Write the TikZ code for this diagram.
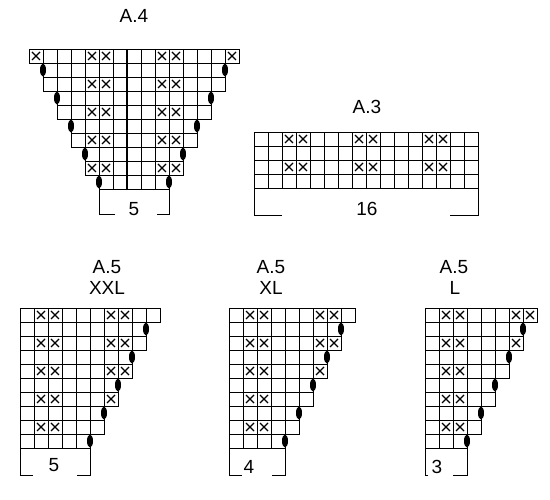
\documentclass[tikz,border=0pt]{standalone}
\usepackage{fontspec}
\setmainfont{Liberation Sans}
\begin{document}
\begin{tikzpicture}[x=1pt, y=-1pt]
        % Definitions
        \def\cs{14}
        \def\crx{4}
        \tikzset{
            cell/.style={draw=black, line width=0.8pt},
            cross/.style={draw=black, line width=1.3pt},
            bracket/.style={draw=black, line width=1pt},
            lbl/.style={font=\fontsize{19}{22}\selectfont, inner sep=0pt}
        }
        \useasboundingbox (0,0) rectangle (550,500);

        % --- CHART A.4 ---
        \node[lbl] (titleAfour) at (134,16) {A.4};
        \begin{scope}[shift={(29,49)}]
            % Cells of each row: row/first/last
            \foreach \r/\a/\b in {1/1/15, 2/2/14, 3/2/14, 4/3/13, 5/3/13,
                                  6/4/12, 7/4/12, 8/5/11, 9/5/11, 10/6/10} {
                \foreach \c in {\a,...,\b}
                    \draw[cell] ({(\c-1)*\cs},{(\r-1)*\cs}) rectangle ++(\cs,\cs);
            }
            % Crosses
            \foreach \r/\c in {1/1, 1/5, 1/6, 1/10, 1/11, 1/15,
                               3/5, 3/6, 3/10, 3/11, 5/5, 5/6, 5/10, 5/11,
                               7/5, 7/6, 7/10, 7/11, 9/5, 9/6, 9/10, 9/11}
                \draw[cross] ({(\c-0.5)*\cs-\crx},{(\r-0.5)*\cs-\crx}) -- ++(2*\crx,2*\crx) ++(-2*\crx,0) -- ++(2*\crx,-2*\crx);
            % Ovals on both edges
            \foreach \r/\a/\b in {2/2/14, 4/3/13, 6/4/12, 8/5/11, 10/6/10} {
                \fill ({(\a-1)*\cs},{(\r-0.5)*\cs}) ellipse (3 and 6.5);
                \fill ({\b*\cs},{(\r-0.5)*\cs}) ellipse (3 and 6.5);
            }
            % Middle line
            \draw[line width=2pt] (7*\cs,0) -- (7*\cs,10*\cs);
            % Bracket
            \draw[bracket] (5*\cs+16,166) -| (5*\cs,10*\cs);
            \draw[bracket] (10*\cs-12,166) -| (10*\cs,10*\cs);
            \node[lbl] (repAfour) at (105,160) {5};
        \end{scope}

        % --- CHART A.3 ---
        \node[lbl] (titleAthree) at (367,107) {A.3};
        \begin{scope}[shift={(254,132)}]
            \foreach \r in {1,...,4}
                \foreach \c in {1,...,16}
                    \draw[cell] ({(\c-1)*\cs},{(\r-1)*\cs}) rectangle ++(\cs,\cs);
            \foreach \r in {1,3}
                \foreach \c in {3,4,8,9,13,14}
                    \draw[cross] ({(\c-0.5)*\cs-\crx},{(\r-0.5)*\cs-\crx}) -- ++(2*\crx,2*\crx) ++(-2*\crx,0) -- ++(2*\crx,-2*\crx);
            \draw[bracket] (28,84) -| (0,4*\cs);
            \draw[bracket] (16*\cs-28,84) -| (16*\cs,4*\cs);
            \node[lbl] (repAthree) at (113,77) {16};
        \end{scope}

        % --- CHART A.5 XXL ---
        \node[lbl] (titleXXLa) at (107,267) {A.5};
        \node[lbl] (titleXXLb) at (107,288) {XXL};
        \begin{scope}[shift={(20,308)}]
            \foreach \r/\b in {1/10, 2/9, 3/9, 4/8, 5/8, 6/7, 7/7, 8/6, 9/6, 10/5} {
                \foreach \c in {1,...,\b}
                    \draw[cell] ({(\c-1)*\cs},{(\r-1)*\cs}) rectangle ++(\cs,\cs);
            }
            \foreach \r/\c in {1/2, 1/3, 1/7, 1/8, 3/2, 3/3, 3/7, 3/8,
                               5/2, 5/3, 5/7, 5/8, 7/2, 7/3, 7/7, 9/2, 9/3}
                \draw[cross] ({(\c-0.5)*\cs-\crx},{(\r-0.5)*\cs-\crx}) -- ++(2*\crx,2*\crx) ++(-2*\crx,0) -- ++(2*\crx,-2*\crx);
            \foreach \r/\b in {2/9, 4/8, 6/7, 8/6, 10/5}
                \fill ({\b*\cs},{(\r-0.5)*\cs}) ellipse (3 and 6.5);
            \draw[bracket] (13,168) -| (0,10*\cs);
            \draw[bracket] (5*\cs-13,168) -| (5*\cs,10*\cs);
            \node[lbl] (repXXL) at (34,157) {5};
        \end{scope}

        % --- CHART A.5 XL ---
        \node[lbl] (titleXLa) at (271,267) {A.5};
        \node[lbl] (titleXLb) at (271,288) {XL};
        \begin{scope}[shift={(229,308)}]
            \foreach \r/\b in {1/9, 2/8, 3/8, 4/7, 5/7, 6/6, 7/6, 8/5, 9/5, 10/4} {
                \foreach \c in {1,...,\b}
                    \draw[cell] ({(\c-1)*\cs},{(\r-1)*\cs}) rectangle ++(\cs,\cs);
            }
            \foreach \r/\c in {1/2, 1/3, 1/7, 1/8, 3/2, 3/3, 3/7, 3/8,
                               5/2, 5/3, 5/7, 7/2, 7/3, 9/2, 9/3}
                \draw[cross] ({(\c-0.5)*\cs-\crx},{(\r-0.5)*\cs-\crx}) -- ++(2*\crx,2*\crx) ++(-2*\crx,0) -- ++(2*\crx,-2*\crx);
            \foreach \r/\b in {2/8, 4/7, 6/6, 8/5, 10/4}
                \fill ({\b*\cs},{(\r-0.5)*\cs}) ellipse (3 and 6.5);
            \draw[bracket] (13,168) -| (0,10*\cs);
            \draw[bracket] (4*\cs-13,168) -| (4*\cs,10*\cs);
            \node[lbl] (repXL) at (20,159) {4};
        \end{scope}

        % --- CHART A.5 L ---
        \node[lbl] (titleLa) at (454,267) {A.5};
        \node[lbl] (titleLb) at (455,288) {L};
        \begin{scope}[shift={(425,308)}]
            \foreach \r/\b in {1/8, 2/7, 3/7, 4/6, 5/6, 6/5, 7/5, 8/4, 9/4, 10/3} {
                \foreach \c in {1,...,\b}
                    \draw[cell] ({(\c-1)*\cs},{(\r-1)*\cs}) rectangle ++(\cs,\cs);
            }
            \foreach \r/\c in {1/2, 1/3, 1/7, 1/8, 3/2, 3/3, 3/7,
                               5/2, 5/3, 7/2, 7/3, 9/2, 9/3}
                \draw[cross] ({(\c-0.5)*\cs-\crx},{(\r-0.5)*\cs-\crx}) -- ++(2*\crx,2*\crx) ++(-2*\crx,0) -- ++(2*\crx,-2*\crx);
            \foreach \r/\b in {2/7, 4/6, 6/5, 8/4, 10/3}
                \fill ({\b*\cs},{(\r-0.5)*\cs}) ellipse (3 and 6.5);
            \draw[bracket] (3,168) -| (0,10*\cs);
            \draw[bracket] (3*\cs-14,168) -| (3*\cs,10*\cs);
            \node[lbl] (repL) at (12,159) {3};
        \end{scope}

\end{tikzpicture}
\end{document}
